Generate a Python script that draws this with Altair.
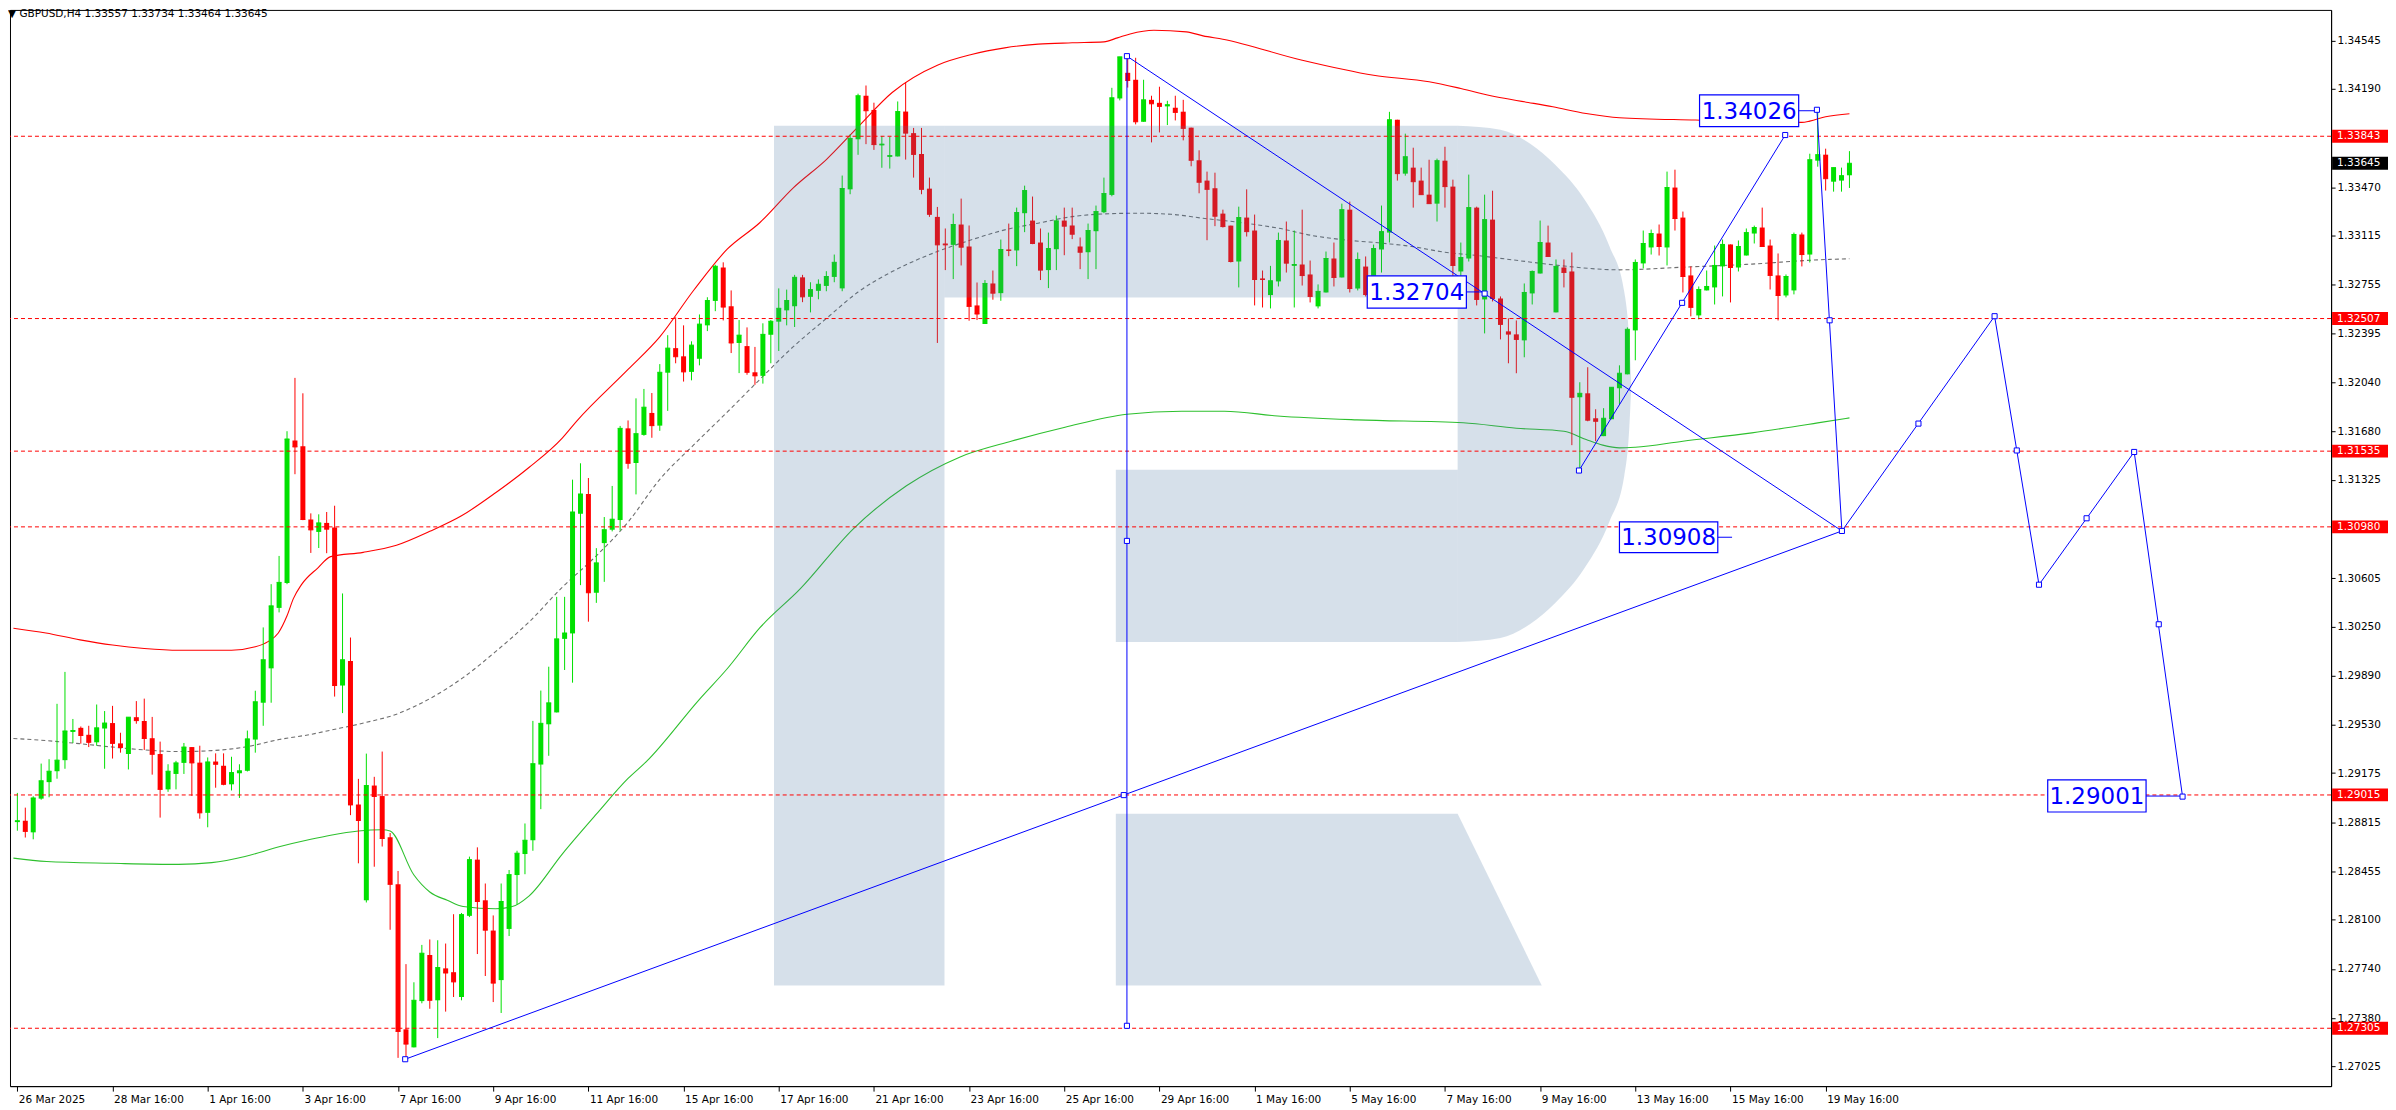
import altair as alt
import pandas as pd

# ---------------- candle data (H4 bars, index 0..231) ----------------
opens = [
 1.28816,1.28826,1.28741,1.28988,1.29109,1.29189,1.29270,1.29477,1.29507,1.29456,
 1.29401,1.29502,1.29542,1.29393,1.29315,1.29585,1.29557,1.29431,1.29315,1.29056,
 1.29169,1.29250,1.29366,1.29252,1.28884,1.29260,1.29229,1.29093,1.29174,1.29192,
 1.29421,1.29691,1.29943,1.30386,1.30568,1.31613,1.31571,1.31034,1.30943,1.31009,
 1.30976,1.29817,1.29996,1.28945,1.28243,1.29084,1.29007,1.28705,1.28360,1.27297,
 1.27165,1.27504,1.27842,1.27510,1.27744,1.27716,1.27534,1.28129,1.28541,1.28243,
 1.28021,1.27658,1.28033,1.28428,1.28582,1.28683,1.29238,1.29533,1.29620,1.30159,
 1.30199,1.31076,1.31221,1.30497,1.30861,1.30959,1.31030,1.31702,1.31448,1.31654,
 1.31815,1.31722,1.32110,1.32290,1.32230,1.32116,1.32212,1.32457,1.32636,1.32881,
 1.32597,1.32328,1.32305,1.32113,1.32087,1.32388,1.32484,1.32567,1.32597,1.32809,
 1.32666,1.32710,1.32746,1.32812,1.32728,1.33454,1.33821,1.34140,1.34036,1.33776,
 1.33692,1.33695,1.34024,1.33866,1.33713,1.33459,1.33252,1.33057,1.33047,1.33196,
 1.33035,1.32603,1.32467,1.32764,1.32693,1.33013,1.33006,1.33279,1.33225,1.33064,
 1.32862,1.33015,1.33225,1.33189,1.33035,1.32993,1.33147,1.33286,1.33413,1.34120,
 1.34308,1.34257,1.33949,1.34110,1.34088,1.34062,1.34052,1.34023,1.33906,1.33667,
 1.33518,1.33462,1.33276,1.33188,1.32925,1.33247,1.33152,1.32801,1.32679,1.32779,
 1.33079,1.32893,1.32903,1.32830,1.32596,1.32698,1.32947,1.32808,1.33305,1.32727,
 1.32888,1.32683,1.33013,1.33137,1.33964,1.33569,1.33613,1.33518,1.33415,1.33349,
 1.33664,1.33474,1.32852,1.32947,1.33320,1.32647,1.33232,1.32654,1.32413,1.32391,
 1.32347,1.32691,1.32837,1.33064,1.32552,1.32881,1.32852,1.31930,1.31959,1.31776,
 1.31645,1.31769,1.31996,1.32098,1.32420,1.32911,1.33028,1.33130,1.33028,1.33467,
 1.33247,1.32823,1.32530,1.32713,1.32735,1.32889,1.33050,1.32881,1.32969,1.33130,
 1.33174,1.33042,1.32823,1.32676,1.32713,1.33123,1.32976,1.33664,1.33708,1.33510,
 1.33518,1.33557]
highs = [
 1.29030,1.28922,1.29005,1.29245,1.29277,1.29683,1.29917,1.29572,1.29517,1.29522,
 1.29678,1.29630,1.29668,1.29471,1.29585,1.29703,1.29721,1.29587,1.29406,1.29240,
 1.29265,1.29396,1.29366,1.29376,1.29290,1.29320,1.29320,1.29295,1.29240,1.29487,
 1.29779,1.30243,1.30560,1.30767,1.31681,1.32072,1.31959,1.31079,1.31072,1.31089,
 1.31135,1.30492,1.30169,1.29133,1.29318,1.29148,1.29333,1.28736,1.28458,1.27775,
 1.27642,1.27916,1.27956,1.27950,1.27926,1.28141,1.28150,1.28563,1.28631,1.28366,
 1.28132,1.28366,1.28465,1.28606,1.28806,1.29558,1.29780,1.29955,1.30467,1.30467,
 1.31326,1.31446,1.31338,1.30824,1.31052,1.31280,1.31720,1.31760,1.31922,1.31991,
 1.31961,1.32173,1.32385,1.32516,1.32457,1.32340,1.32537,1.32663,1.32901,1.32919,
 1.32713,1.32496,1.32442,1.32299,1.32472,1.32496,1.32728,1.32719,1.32827,1.32827,
 1.32773,1.32794,1.32854,1.32976,1.33555,1.33857,1.34155,1.34215,1.34089,1.33845,
 1.33839,1.34098,1.34239,1.33904,1.33904,1.33540,1.33325,1.33167,1.33276,1.33386,
 1.33189,1.32771,1.32789,1.32859,1.33086,1.33203,1.33320,1.33481,1.33401,1.33167,
 1.33137,1.33262,1.33320,1.33320,1.33101,1.33203,1.33335,1.33540,1.34198,1.34425,
 1.34430,1.34418,1.34257,1.34140,1.34206,1.34103,1.34140,1.34110,1.33906,1.33740,
 1.33584,1.33576,1.33305,1.33188,1.33327,1.33454,1.33269,1.32859,1.32893,1.33137,
 1.33218,1.33152,1.33305,1.32932,1.32757,1.32998,1.33064,1.33349,1.33364,1.32991,
 1.32962,1.33049,1.33335,1.34022,1.33964,1.33862,1.33759,1.33613,1.33671,1.33679,
 1.33766,1.33525,1.33064,1.33562,1.33327,1.33415,1.33444,1.32669,1.32508,1.32493,
 1.32764,1.32859,1.33225,1.33188,1.32940,1.32940,1.32991,1.32040,1.32150,1.31842,
 1.31850,1.32003,1.32164,1.32442,1.32940,1.33152,1.33159,1.33196,1.33584,1.33598,
 1.33291,1.32889,1.32742,1.32859,1.33042,1.33086,1.33050,1.33079,1.33167,1.33188,
 1.33320,1.33086,1.32984,1.32830,1.33137,1.33137,1.33715,1.34037,1.33752,1.33613,
 1.33613,1.33734]
lows = [
 1.28753,1.28703,1.28690,1.28980,1.28998,1.29134,1.29207,1.29396,1.29391,1.29366,
 1.29376,1.29207,1.29282,1.29325,1.29202,1.29537,1.29345,1.29164,1.28849,1.29038,
 1.29056,1.29169,1.29008,1.28841,1.28778,1.29068,1.29086,1.29048,1.28993,1.29187,
 1.29325,1.29522,1.29691,1.30353,1.30560,1.31366,1.31029,1.30789,1.30825,1.30787,
 1.29736,1.29615,1.28867,1.28514,1.28227,1.28489,1.28637,1.28027,1.27088,1.27079,
 1.27165,1.27488,1.27448,1.27233,1.27427,1.27534,1.27510,1.28120,1.27849,1.27688,
 1.27497,1.27417,1.27981,1.28212,1.28434,1.28606,1.28911,1.29302,1.29620,1.29931,
 1.29838,1.30553,1.30285,1.30423,1.30577,1.30947,1.30953,1.31406,1.31218,1.31648,
 1.31633,1.31684,1.31830,1.32179,1.32045,1.32054,1.32164,1.32415,1.32561,1.32493,
 1.32254,1.32107,1.32095,1.32021,1.32030,1.32179,1.32269,1.32457,1.32445,1.32627,
 1.32552,1.32648,1.32707,1.32773,1.32707,1.33418,1.33707,1.33785,1.33743,1.33612,
 1.33606,1.33695,1.33672,1.33540,1.33418,1.33252,1.32328,1.32862,1.32796,1.32896,
 1.32491,1.32496,1.32467,1.32645,1.32637,1.32964,1.32891,1.33140,1.33052,1.32789,
 1.32730,1.32862,1.32971,1.33089,1.32869,1.32796,1.32869,1.33279,1.33403,1.34106,
 1.34200,1.33930,1.33949,1.33798,1.33871,1.33925,1.33959,1.33813,1.33623,1.33425,
 1.33081,1.33184,1.33174,1.32918,1.32735,1.33108,1.32603,1.32588,1.32581,1.32742,
 1.32844,1.32588,1.32749,1.32625,1.32581,1.32698,1.32742,1.32808,1.32698,1.32713,
 1.32669,1.32588,1.32844,1.33064,1.33518,1.33554,1.33320,1.33415,1.33349,1.33218,
 1.33320,1.32786,1.32786,1.32925,1.32603,1.32398,1.32632,1.32354,1.32179,1.32106,
 1.32223,1.32610,1.32837,1.32962,1.32552,1.32735,1.31579,1.31389,1.31754,1.31608,
 1.31645,1.31769,1.31879,1.32098,1.32201,1.32874,1.32976,1.32969,1.32896,1.33152,
 1.32698,1.32523,1.32501,1.32713,1.32610,1.32669,1.32625,1.32852,1.32969,1.33057,
 1.33035,1.32720,1.32493,1.32662,1.32684,1.32889,1.32918,1.33620,1.33445,1.33437,
 1.33437,1.33464]
closes = [
 1.28826,1.28748,1.28993,1.29119,1.29189,1.29270,1.29484,1.29487,1.29451,1.29401,
 1.29507,1.29542,1.29393,1.29363,1.29585,1.29560,1.29429,1.29313,1.29056,1.29189,
 1.29250,1.29366,1.29250,1.28884,1.29257,1.29240,1.29093,1.29179,1.29192,1.29426,
 1.29698,1.30006,1.30401,1.30573,1.31624,1.31566,1.31034,1.30958,1.31009,1.30963,
 1.29817,1.30006,1.28942,1.28828,1.29084,1.29004,1.28696,1.28360,1.27282,1.27189,
 1.27510,1.27855,1.27510,1.27750,1.27710,1.27645,1.28138,1.28541,1.28234,1.28024,
 1.27636,1.28234,1.28431,1.28588,1.28683,1.29244,1.29540,1.29690,1.30159,1.30202,
 1.31089,1.31221,1.30497,1.30716,1.30959,1.31036,1.31702,1.31446,1.31663,1.31857,
 1.31722,1.32113,1.32290,1.32227,1.32116,1.32312,1.32466,1.32639,1.32890,1.32591,
 1.32328,1.32385,1.32113,1.32087,1.32391,1.32487,1.32582,1.32639,1.32809,1.32666,
 1.32719,1.32758,1.32815,1.32919,1.33460,1.33827,1.34140,1.34030,1.33782,1.33785,
 1.33701,1.34024,1.33866,1.33710,1.33454,1.33271,1.33047,1.33047,1.33196,1.33030,
 1.32596,1.32540,1.32764,1.32693,1.33013,1.33006,1.33284,1.33445,1.33057,1.32862,
 1.33020,1.33223,1.33184,1.33125,1.32993,1.33152,1.33291,1.33423,1.34125,1.34425,
 1.34252,1.33949,1.34110,1.34081,1.34062,1.34074,1.34018,1.33901,1.33667,1.33506,
 1.33454,1.33257,1.33181,1.32925,1.33247,1.33144,1.32793,1.32793,1.32784,1.33079,
 1.32913,1.32903,1.32822,1.32669,1.32706,1.32947,1.32808,1.33305,1.32727,1.32940,
 1.32683,1.33020,1.33144,1.33964,1.33569,1.33693,1.33510,1.33415,1.33349,1.33664,
 1.33474,1.32896,1.32954,1.33320,1.32647,1.33232,1.32654,1.32464,1.32393,1.32354,
 1.32698,1.32852,1.33064,1.32962,1.32889,1.32845,1.31930,1.31959,1.31762,1.31754,
 1.31776,1.32003,1.32106,1.32428,1.32918,1.33057,1.33130,1.33035,1.33467,1.33240,
 1.32815,1.32589,1.32720,1.32742,1.32896,1.33050,1.32881,1.33035,1.33137,1.33174,
 1.33035,1.32823,1.32676,1.32815,1.33123,1.32976,1.33671,1.33708,1.33532,1.33613,
 1.33554,1.33645]

# ---------------- indicator envelopes ----------------
upper_i = [-0.5,3.6,7.9,12,16,20.4,27,30,31.6,32.9,34,34.8,35.8,37.9,39.5,43.6,47.8,52,56,60.3,64.5,68.7,70.5,77,81,
           85.3,89.5,93.6,97.8,102,106,110.3,116,120.3,124.5,128.7,133,137,138.7,140.3,143.3,147.4,149.5,152,162,171,
           178,182,186.4,190.5,193.6,197.8,202,211.6,225,226,228,231]
upper_p = [1.30237,1.30202,1.30152,1.30114,1.30089,1.30076,1.30076,1.30101,1.30139,1.30202,1.30328,1.30454,1.30555,
           1.30680,1.30762,1.30793,1.30845,1.30947,1.31061,1.31230,1.31415,1.31631,1.31754,1.32134,1.32373,
           1.32716,1.33015,1.33209,1.33463,1.33672,1.33912,1.34164,1.34364,1.34442,1.34491,1.34518,1.34528,1.34535,
           1.34564,1.34593,1.34620,1.34608,1.34579,1.34554,1.34400,1.34290,1.34242,1.34193,1.34132,1.34091,1.34059,
           1.34010,1.33979,1.33962,1.33945,1.33954,1.33986,1.34008]
mid_i = [-0.5,3.7,7.8,12,16,20.3,24.5,28.7,33,37,39.5,43.7,47.8,52,56.2,60.3,64.5,68.7,73,77,81,85.3,89.5,93.6,
         97.8,102,106,110.3,116,120.3,124.5,128.7,133,137,141.3,145.5,149.5,155,159,163.3,167.4,171.6,175.8,180,
         184,189.5,193.6,202,210.3,218.7,227,231]
mid_p = [1.29429,1.29413,1.29391,1.29366,1.29345,1.29333,1.29340,1.29366,1.29421,1.29459,1.29490,1.29543,1.29607,
         1.29721,1.29875,1.30066,1.30282,1.30537,1.30768,1.31015,1.31328,1.31582,1.31821,1.32060,1.32299,1.32507,
         1.32701,1.32851,1.32998,1.33084,1.33157,1.33206,1.33254,1.33274,1.33279,1.33271,1.33242,1.33205,1.33169,
         1.33115,1.33083,1.33062,1.33035,1.32993,1.32969,1.32930,1.32901,1.32864,1.32884,1.32906,1.32937,1.32945]
lower_i = [-0.5,3.7,12,20.3,24.5,28.7,33,37,39.5,43,46,47,50,52,54.2,56.2,60.3,62.4,64.5,68.7,73,77,79.3,86,89.5,
           93.6,98.7,105.4,112.1,118.8,125.4,132.1,139.9,146.8,152.2,158.9,168.9,182.3,189,195,197.8,199.9,202,204,
           210,218.7,227,231]
lower_p = [1.28552,1.28527,1.28514,1.28506,1.28519,1.28564,1.28635,1.28690,1.28720,1.28751,1.28760,1.28751,1.28428,
           1.28304,1.28243,1.28197,1.28181,1.28197,1.28274,1.28582,1.28874,1.29136,1.29259,1.29716,1.29940,1.30239,
           1.30525,1.30966,1.31281,1.31491,1.31609,1.31710,1.31806,1.31827,1.31827,1.31793,1.31764,1.31743,1.31703,
           1.31681,1.31620,1.31579,1.31559,1.31564,1.31608,1.31669,1.31742,1.31779]

# ---------------- levels, axis ticks ----------------
level_prices = [1.33843, 1.32507, 1.31535, 1.30980, 1.29015, 1.27305]
current_price = [1.33645]
y_ticks = [1.34545,1.34190,1.33470,1.33115,1.32755,1.32395,1.32040,1.31680,1.31325,1.30605,1.30250,
           1.29890,1.29530,1.29175,1.28815,1.28455,1.28100,1.27740,1.27380,1.27025]
x_tick_labels = ['26 Mar 2025','28 Mar 16:00','1 Apr 16:00','3 Apr 16:00','7 Apr 16:00','9 Apr 16:00',
                 '11 Apr 16:00','15 Apr 16:00','17 Apr 16:00','21 Apr 16:00','23 Apr 16:00','25 Apr 16:00',
                 '29 Apr 16:00','1 May 16:00','5 May 16:00','7 May 16:00','9 May 16:00','13 May 16:00',
                 '15 May 16:00','19 May 16:00']
x_tick_idx = [12 * k for k in range(len(x_tick_labels))]

# ---------------- forecast / trend lines ----------------
seg_x1 = [48.9, 139.9, 139.9, 196.9, 226.9, 230.05, 249.3, 254.9, 266.9]
seg_p1 = [1.27078, 1.34430, 1.34430, 1.31393, 1.34037, 1.30950, 1.32524, 1.30556, 1.31529]
seg_x2 = [230.05, 139.9, 230.05, 222.9, 230.05, 249.3, 254.9, 266.9, 273.0]
seg_p2 = [1.30950, 1.27323, 1.30950, 1.33852, 1.30950, 1.32524, 1.30556, 1.31529, 1.29003]
node_x = [48.9,139.5,230.05,139.9,139.9,139.9,185.0,196.9,209.9,222.9,226.9,228.5,239.7,249.3,252.1,254.9,260.9,266.9,270.0,273.0]
node_p = [1.27078,1.29014,1.30950,1.34430,1.30877,1.27323,1.32690,1.31393,1.32622,1.33852,1.34037,1.32494,
          1.31737,1.32524,1.31540,1.30556,1.31043,1.31529,1.30266,1.29003]

note_text = ['1.34026', '1.32704', '1.30908', '1.29001']
note_x1 = [212.1, 170.2, 202.0, 256.0]
note_x2 = [224.6, 182.7, 214.4, 268.4]
note_top = [1.34147, 1.32820, 1.31016, 1.29125]
note_bot = [1.33913, 1.32583, 1.30791, 1.28890]
note_p = [1.34030, 1.32702, 1.30904, 1.29007]
lead_end = [226.9, 185.0, 216.2, 273.0]

# ---------------- watermark "R" outline ----------------
wm_x1 = [95.4, 116.9, 138.5]
wm_x2 = [116.9, 181.6, 181.6]
wm_top = [1.33920, 1.33920, 1.31399]
wm_bot = [1.27619, 1.32661, 1.30137]
bowl_i = [181.6, 187.0, 190.75, 193.9, 197.6, 200.75, 202.6, 203.25, 203.5]
bowl_top = [1.33920, 1.33891, 1.33788, 1.33634, 1.33379, 1.33035, 1.32706, 1.32339, 1.32028]
bowl_bot = [1.30137, 1.30166, 1.30268, 1.30422, 1.30678, 1.31022, 1.31351, 1.31717, 1.32028]
leg_i = [138.5, 181.6, 192.2]
leg_top = [1.28878, 1.28878, 1.27619]
leg_bot = [1.27619, 1.27619, 1.27619]

# ---------------- build ----------------
W, H = 2325, 1078
GREEN, RED, BLUE = '#00e000', '#ff0000', '#0000ff'
FONT = 'DejaVu Sans'

candles = pd.DataFrame({'i': list(range(len(closes))), 'o': opens, 'h': highs, 'l': lows, 'c': closes})
candles['dir'] = ['up' if c >= o else 'down' for o, c in zip(opens, closes)]

xs = alt.Scale(domain=[-0.3, 291.1], nice=False, zero=False)
ys = alt.Scale(domain=[1.26881, 1.34769], nice=False, zero=False)
label_expr = '[' + ','.join("'%s'" % t for t in x_tick_labels) + '][round(datum.value/12)]'
xaxis = alt.Axis(values=x_tick_idx, labelExpr=label_expr, title=None, orient='bottom', tickSize=5,
                 labelAlign='left', labelOffset=1, labelPadding=3, grid=False, labelOverlap=False,
                 labelFlush=False, labelBound=False)
yaxis = alt.Axis(values=y_ticks, format='.5f', title=None, orient='right', tickSize=4, labelPadding=2,
                 grid=False, labelOverlap=False, labelFlush=False, labelBound=False)


def X(f):
    return alt.X(f, type='quantitative', scale=xs, axis=xaxis)


def Y(f):
    return alt.Y(f, type='quantitative', scale=ys, axis=yaxis)


color = alt.Color('dir:N', scale=alt.Scale(domain=['up', 'down'], range=[GREEN, RED]), legend=None)

base = alt.Chart(candles)
wicks = base.mark_rule(strokeWidth=1).encode(x=X('i'), y=Y('l'), y2='h', color=color)
bodies = base.mark_bar(size=5).encode(x=X('i'), y=Y('o'), y2='c', color=color)
closeline = base.transform_calculate(xl='datum.i - 0.31', xr='datum.i + 0.31').mark_rule(strokeWidth=1).encode(
    x=X('xl'), x2='xr', y=Y('c'), color=color)


def band(ii, pp, col, dash=None):
    df = pd.DataFrame({'i': ii, 'p': pp})
    kw = dict(color=col, strokeWidth=1.1, interpolate='monotone')
    if dash:
        kw['strokeDash'] = dash
    return alt.Chart(df).mark_line(**kw).encode(x=X('i'), y=Y('p'))


upper = band(upper_i, upper_p, '#ff0000')
middle = band(mid_i, mid_p, '#6e6e6e', [4, 3])
lower = band(lower_i, lower_p, '#2ec02e')

WM = '#4774a1'
WMO = 0.224
wm_rects = alt.Chart(pd.DataFrame({'x1': wm_x1, 'x2': wm_x2, 't': wm_top, 'b': wm_bot})).mark_rect(
    color=WM, opacity=WMO).encode(x=X('x1'), x2='x2', y=Y('t'), y2='b')
wm_bowl = alt.Chart(pd.DataFrame({'i': bowl_i, 't': bowl_top, 'b': bowl_bot})).mark_area(
    color=WM, opacity=WMO, interpolate='monotone').encode(x=X('i'), y=Y('t'), y2='b')
wm_leg = alt.Chart(pd.DataFrame({'i': leg_i, 't': leg_top, 'b': leg_bot})).mark_area(
    color=WM, opacity=WMO).encode(x=X('i'), y=Y('t'), y2='b')

levels = alt.Chart(pd.DataFrame({'p': level_prices})).mark_rule(
    color=RED, strokeWidth=1, strokeDash=[4, 3]).encode(y=Y('p'))

segs = alt.Chart(pd.DataFrame({'x1': seg_x1, 'x2': seg_x2, 'p1': seg_p1, 'p2': seg_p2})).mark_rule(
    color=BLUE, strokeWidth=1).encode(x=X('x1'), x2='x2', y=Y('p1'), y2='p2')
nodes = alt.Chart(pd.DataFrame({'i': node_x, 'p': node_p})).mark_square(
    size=26, fill='white', stroke=BLUE, strokeWidth=1, opacity=1).encode(x=X('i'), y=Y('p'))

notes_df = pd.DataFrame({'t': note_text, 'x1': note_x1, 'x2': note_x2, 'top': note_top, 'bot': note_bot,
                         'p': note_p, 'le': lead_end})
leaders = alt.Chart(notes_df).mark_rule(color=BLUE, strokeWidth=1).encode(x=X('x2'), x2='le', y=Y('p'))
boxes = alt.Chart(notes_df).mark_rect(fill='white', stroke=BLUE, strokeWidth=1.2).encode(
    x=X('x1'), x2='x2', y=Y('top'), y2='bot')
texts = alt.Chart(notes_df).transform_calculate(xc='(datum.x1 + datum.x2) / 2').mark_text(
    font=FONT, fontSize=23, color=BLUE, align='center', baseline='middle', dy=1).encode(
    x=X('xc'), y=Y('p'), text='t:N')

# price tags on the right axis
lvl_df = pd.DataFrame({'p': level_prices, 'lab': ['%.5f' % v for v in level_prices]})
cur_df = pd.DataFrame({'p': current_price, 'lab': ['%.5f' % v for v in current_price]})


def tag(df, bg):
    box = alt.Chart(df).transform_calculate(t='datum.p + 0.00047', b='datum.p - 0.00047').mark_rect(
        color=bg).encode(x=alt.value(W + 1), x2=alt.value(W + 57), y=Y('t'), y2='b')
    txt = alt.Chart(df).mark_text(font=FONT, fontSize=10.5, color='white', align='left',
                                  baseline='middle').encode(x=alt.value(W + 6), y=Y('p'), text='lab:N')
    return box, txt


lvl_box, lvl_txt = tag(lvl_df, RED)
cur_box, cur_txt = tag(cur_df, '#000000')

title = alt.Chart(pd.DataFrame({'t': ['\u25bc GBPUSD,H4  1.33557 1.33734 1.33464 1.33645']})).mark_text(
    font=FONT, fontSize=10.5, color='black', align='left', baseline='middle').encode(
    x=alt.value(-2), y=alt.value(4), text='t:N')

chart = alt.layer(
    upper, middle, lower, wicks, bodies, closeline,
    wm_rects, wm_bowl, wm_leg,
    levels, segs, leaders, boxes, texts, nodes, lvl_box, lvl_txt, cur_box, cur_txt, title
).properties(width=W, height=H, padding=0, background='white').configure_view(
    stroke='black', strokeWidth=1
).configure_axis(
    labelFont=FONT, labelFontSize=10.5, labelColor='black', domainColor='black', tickColor='black',
    domainWidth=1, tickWidth=1
)

chart.save('out.html', embed_options={'renderer': 'svg', 'actions': False})
